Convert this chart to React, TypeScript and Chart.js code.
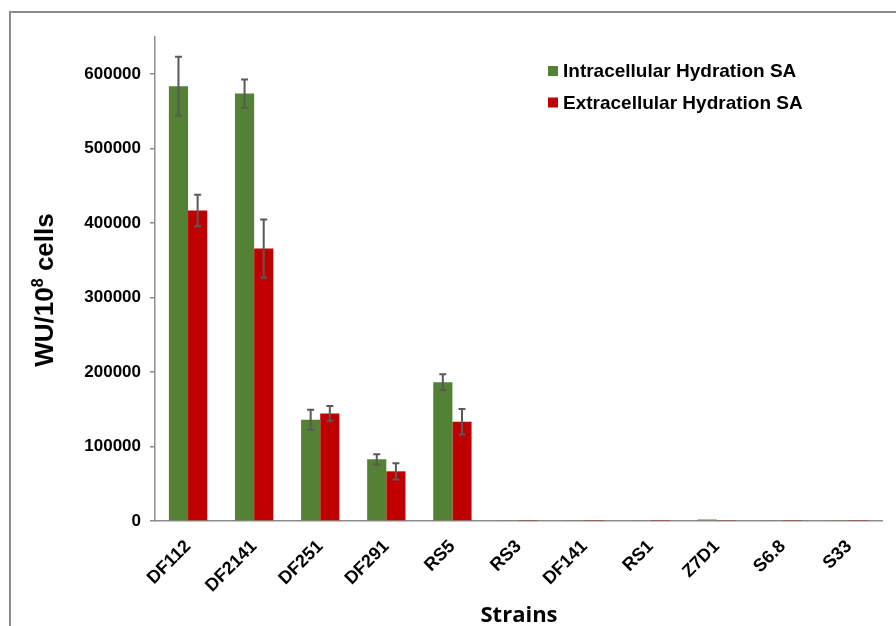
import React, { useEffect, useRef } from 'react';
import { Chart, registerables } from 'chart.js';

Chart.register(...registerables);

const categories = ['DF112', 'DF2141', 'DF251', 'DF291', 'RS5', 'RS3', 'DF141', 'RS1', 'Z7D1', 'S6.8', 'S33'];
const intracellular = [584000, 574000, 136000, 82800, 186500, 800, 700, 900, 2000, 800, 700];
const intracellularErr = [39500, 19000, 13500, 7000, 10500, 300, 300, 300, 500, 300, 300];
const extracellular = [417000, 366000, 144500, 66700, 133300, 600, 600, 600, 700, 600, 600];
const extracellularErr = [21000, 39000, 10000, 11000, 17000, 200, 200, 200, 200, 200, 200];
const seriesLabels = ['Intracellular Hydration SA', 'Extracellular Hydration SA'];
const seriesColors = ['#548235', '#C00000'];
const yTicks = [0, 100000, 200000, 300000, 400000, 500000, 600000];
const yMax = 650000;
const yTitleMain = 'WU/10';
const yTitleSup = '8';
const yTitleEnd = ' cells';
const xTitle = 'Strains';

const FONT = "'Liberation Sans', Arial, sans-serif";

const errors = [intracellularErr, extracellularErr];

const decorPlugin = {
  id: 'decor',
  beforeDraw(chart: any) {
    const ctx = chart.ctx;
    ctx.save();
    ctx.fillStyle = '#ffffff';
    ctx.fillRect(0, 0, chart.width, chart.height);
    ctx.strokeStyle = '#8c8c8c';
    ctx.lineWidth = 2;
    ctx.beginPath();
    ctx.moveTo(10, chart.height + 2);
    ctx.lineTo(10, 12);
    ctx.lineTo(chart.width + 2, 12);
    ctx.stroke();
    ctx.restore();
  },
  afterDatasetsDraw(chart: any) {
    const ctx = chart.ctx;
    const yScale = chart.scales.y;
    ctx.save();
    ctx.strokeStyle = '#595959';
    ctx.lineWidth = 2;
    chart.data.datasets.forEach((ds: any, i: number) => {
      const meta = chart.getDatasetMeta(i);
      meta.data.forEach((el: any, j: number) => {
        const v = ds.data[j];
        const e = errors[i][j];
        if (e < 2000) return;
        const x = el.x;
        const yT = yScale.getPixelForValue(v + e);
        const yB = yScale.getPixelForValue(v - e);
        ctx.beginPath();
        ctx.moveTo(x, yT);
        ctx.lineTo(x, yB);
        ctx.moveTo(x - 3.5, yT);
        ctx.lineTo(x + 3.5, yT);
        ctx.moveTo(x - 3.5, yB);
        ctx.lineTo(x + 3.5, yB);
        ctx.stroke();
      });
    });
    ctx.restore();
  },
  afterDraw(chart: any) {
    const ctx = chart.ctx;
    ctx.save();
    // legend
    ctx.font = `bold 19px ${FONT}`;
    ctx.textBaseline = 'middle';
    ctx.textAlign = 'left';
    chart.data.datasets.forEach((ds: any, i: number) => {
      const cy = 71 + i * 31.5;
      ctx.fillStyle = ds.backgroundColor;
      ctx.fillRect(548, cy - 5, 10, 10);
      ctx.fillStyle = '#000000';
      ctx.fillText(ds.label, 563, cy + 1);
    });
    // y title
    ctx.translate(53, 290);
    ctx.rotate(-Math.PI / 2);
    ctx.textBaseline = 'alphabetic';
    const bigFont = `bold 26px ${FONT}`;
    const supFont = `bold 16px ${FONT}`;
    ctx.font = bigFont;
    const w1 = ctx.measureText(yTitleMain).width;
    const w3 = ctx.measureText(yTitleEnd).width;
    ctx.font = supFont;
    const w2 = ctx.measureText(yTitleSup).width;
    const total = w1 + w2 + w3;
    let x0 = -total / 2;
    ctx.fillStyle = '#000000';
    ctx.font = bigFont;
    ctx.fillText(yTitleMain, x0, 0);
    x0 += w1;
    ctx.font = supFont;
    ctx.fillText(yTitleSup, x0, -10);
    x0 += w2;
    ctx.font = bigFont;
    ctx.fillText(yTitleEnd, x0, 0);
    ctx.restore();
    // x title
    ctx.save();
    ctx.font = `bold 22px 'Open Sans', sans-serif`;
    ctx.fillStyle = '#000000';
    ctx.textAlign = 'center';
    ctx.textBaseline = 'alphabetic';
    ctx.fillText(xTitle, 519, 622);
    ctx.restore();
  },
};

export default function App() {
  const canvasRef = useRef<HTMLCanvasElement | null>(null);

  useEffect(() => {
    if (!canvasRef.current) return;
    const chart = new Chart(canvasRef.current, {
      type: 'bar',
      data: {
        labels: categories,
        datasets: [
          {
            label: seriesLabels[0],
            data: intracellular,
            backgroundColor: seriesColors[0],
            borderWidth: 0,
            categoryPercentage: 0.58,
            barPercentage: 1,
          },
          {
            label: seriesLabels[1],
            data: extracellular,
            backgroundColor: seriesColors[1],
            borderWidth: 0,
            categoryPercentage: 0.58,
            barPercentage: 1,
          },
        ],
      },
      options: {
        animation: false,
        responsive: true,
        maintainAspectRatio: false,
        layout: { padding: { left: 0, top: 37, right: 14, bottom: 0 } },
        plugins: {
          legend: { display: false },
          tooltip: { enabled: false },
        },
        scales: {
          x: {
            grid: { display: false },
            border: { display: true, color: '#8c8c8c', width: 1.5 },
            ticks: {
              minRotation: 45,
              maxRotation: 45,
              padding: 7,
              color: '#000000',
              font: { family: FONT, size: 18, weight: 'bold' },
            },
            afterFit(scale: any) {
              scale.height = 105;
            },
          },
          y: {
            min: 0,
            max: yMax,
            grid: {
              drawOnChartArea: false,
              drawTicks: true,
              tickLength: 5,
              color: '#8c8c8c',
              lineWidth: 1.5,
            },
            border: { display: true, color: '#8c8c8c', width: 1.5 },
            ticks: {
              padding: 9,
              color: '#000000',
              font: { family: FONT, size: 17, weight: 'bold' },
              callback: (v: any) => String(v),
            },
            afterBuildTicks(scale: any) {
              scale.ticks = yTicks.map((v) => ({ value: v }));
            },
            afterFit(scale: any) {
              scale.width = 155;
            },
          },
        },
      },
      plugins: [decorPlugin],
    } as any);
    return () => chart.destroy();
  }, []);

  return (
    <div style={{ position: 'fixed', left: 0, top: 0, width: 896, height: 626, background: '#fff' }}>
      <canvas ref={canvasRef} />
    </div>
  );
}
